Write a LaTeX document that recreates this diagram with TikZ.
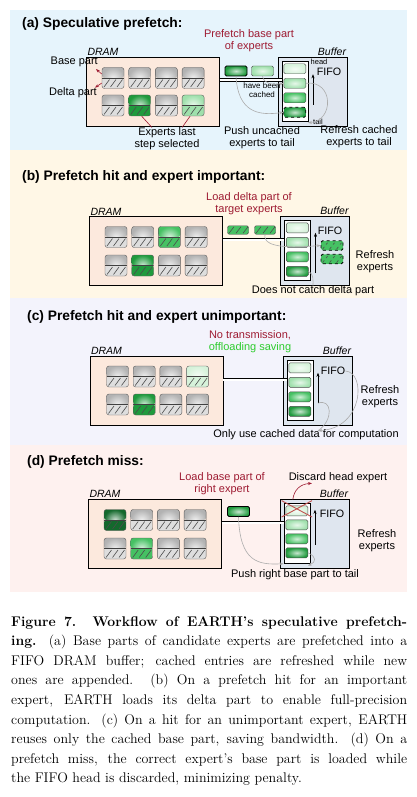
\documentclass[tikz,border=0pt]{standalone}
\usepackage{fontspec}
\setsansfont{Liberation Sans}
\usepackage{tikz}
\usetikzlibrary{arrows.meta,positioning}
\definecolor{panelA}{HTML}{E6F4FC}
\definecolor{panelB}{HTML}{FFF7E6}
\definecolor{panelC}{HTML}{F3F3FC}
\definecolor{panelD}{HTML}{FEF1EF}
\definecolor{dramfill}{HTML}{FCE9DD}
\definecolor{buffill}{HTML}{DFE6EF}
\definecolor{darkred}{HTML}{9E1B32}
\definecolor{savegreen}{HTML}{2ECC2E}
\definecolor{xred}{HTML}{C0504D}
\definecolor{grnK}{HTML}{13692C}
\definecolor{grnD}{HTML}{1F9A3D}
\definecolor{grnM}{HTML}{46C163}
\definecolor{grnL}{HTML}{9FE0AC}
\definecolor{grnV}{HTML}{D6F2DA}
\colorlet{gUp}{black!30}
\colorlet{gLo}{black!13}

\begin{document}
\begin{tikzpicture}[x=1pt, y=-1pt,
  >={Stealth[length=4pt,width=3pt]},
  ttl/.style={anchor=west, inner sep=0pt, font=\sffamily\bfseries\fontsize{13.8}{15}\selectfont},
  lbl/.style={font=\sffamily\fontsize{11}{12.2}\selectfont, align=center, inner sep=0pt},
  red lbl/.style={lbl, text=darkred},
  small/.style={font=\sffamily\fontsize{8}{9}\selectfont, align=center, inner sep=0pt},
  tinylbl/.style={font=\sffamily\fontsize{7.5}{8}\selectfont, inner sep=0pt},
  fifolbl/.style={font=\sffamily\fontsize{10.7}{12}\selectfont, inner sep=0pt},
  memlbl/.style={font=\sffamily\itshape\fontsize{10.5}{12}\selectfont, inner sep=1pt},
  dram/.style={draw, fill=dramfill, minimum width=133pt, minimum height=69pt},
  buf/.style={draw, fill=buffill, minimum width=69pt, minimum height=69pt},
  fifo/.style={draw, fill=white, minimum width=26pt, minimum height=60pt},
  slot/.style={draw=black!70, rounded corners=1.5pt, minimum width=22pt, minimum height=10pt,
               inner sep=0pt, inner color=#1!25, outer color=#1},
  tailslot/.style={draw=black, dashed, thick},
  deltabox/.style={draw=black!70, rounded corners=1.5pt, fill=grnM, minimum width=21pt,
               minimum height=8.5pt, inner sep=0pt,
               path picture={\foreach \k in {0,1,2}
                 \draw[black!70, line width=.6pt] ([xshift=\k*7pt+1.5pt, yshift=1pt]path picture bounding box.south west) -- ++(5pt,6.5pt);}},
  expert/.style 2 args={draw=black!65, rounded corners=2.5pt, minimum width=22pt, minimum height=21pt, inner sep=0pt,
               path picture={
                 \shade[inner color=#1!20, outer color=#1] (path picture bounding box.north west) rectangle (path picture bounding box.east);
                 \fill[#2] (path picture bounding box.west) rectangle (path picture bounding box.south east);
                 \foreach \k in {0,1,2}
                   \draw[black!70, line width=.6pt] ([xshift=\k*6.5pt+2pt, yshift=1.5pt]path picture bounding box.south west) -- ++(5.5pt,7.5pt);
                 \draw[black!75, line width=.6pt] (path picture bounding box.west) -- (path picture bounding box.east);}},
  link/.style={double distance=2pt, line width=.6pt},
  gcurve/.style={gray!65, line width=.6pt},
  redln/.style={darkred, line width=.6pt}]
\useasboundingbox (0,0) rectangle (417,797);
% panel backgrounds
\fill[panelA] (10,10) rectangle (407,150);
\fill[panelB] (10,150) rectangle (407,298);
\fill[panelC] (10,298) rectangle (407,445);
\fill[panelD] (10,445) rectangle (407,592);

% (a) speculative prefetch
\node[ttl] (ttlA) at (22,24) {(a) Speculative prefetch:};
\node[dram] (dramA) at (153,91.5) {};
\node[buf] (bufA) at (312.5,91.5) {};
\node[fifo] (fifoA) at ([xshift=17pt]bufA.west) {};
\node[memlbl, anchor=south west] (dlA) at (dramA.north west) {DRAM};
\node[memlbl, anchor=south east] (blA) at (bufA.north east) {Buffer};
\foreach \cu/\cl [count=\i from 0] in {gUp/gLo,gUp/gLo,gUp/gLo,gUp/gLo,gUp/gLo,grnD/grnD,gUp/gLo,grnL/grnL}
  \node[expert={\cu}{\cl}] (eA\i) at ([shift={({mod(\i,4)*26.7-40},{int(\i/4)*27.5-13.5})}]dramA.center) {};
\foreach \c/\s [count=\i] in {grnV/,grnL/,grnM/,grnD/tailslot}
  \node[slot=\c,\s] (sA\i) at ([yshift={-(\i-1)*14.5pt-7.5pt}]fifoA.north) {};
\draw[link] ([yshift=11.5pt]dramA.east) -- ([yshift=11.5pt]fifoA.west);
\node[slot=grnD, draw=black, thick] (tA1) at (236,71) {};
\node[slot=grnL] (tA2) at (262.5,71) {};
\node[red lbl] (pfA) at (249,41) {Prefetch base part\\of experts};
\node[lbl, anchor=east] (baseA) at (98,62) {Base part};
\node[lbl, anchor=east] (deltaA) at (97,93) {Delta part};
\draw[redln,->] ([yshift=4pt]eA0.west) -- ([xshift=-2pt,yshift=-2pt]baseA.south east);
\draw[redln,->] ([yshift=-5pt]eA0.west) -- ([xshift=-2pt]deltaA.north east);
\node[lbl] (selA) at (167,139) {Experts last\\step selected};
\draw[redln] ([xshift=2pt]eA5.south) -- ([xshift=-15pt]selA.north);
\draw[redln] ([xshift=-3pt]eA7.south) -- ([xshift=15pt]selA.north);
\node[small] (cachedA) at (262,90.5) {have been\\cached};
\coordinate (arA1) at ([xshift=5pt,yshift=17pt]fifoA.south east);
\coordinate (arA2) at ([xshift=5pt,yshift=-13pt]fifoA.north east);
\draw[->] (arA1) -- (arA2);
\node[fifolbl] (fifolblA) at (329,72) {FIFO};
\node[tinylbl] (headA) at (319,62) {head};
\node[tinylbl] (tailA) at (318,122) {tail};
\draw[gcurve,->] (tA1.south) .. controls (238,112) and (258,116) .. (sA4.west);
\draw[gcurve,->] (tA2.south) .. controls (264,84) and (272,85) .. (sA2.west);
\draw[gcurve,->] (sA2.east) .. controls (334,80) and (334,121) .. ([yshift=-1pt]fifoA.south east);
\node[lbl] (pushA) at (262,138) {Push uncached\\experts to tail};
\node[lbl] (refA) at (359,137) {Refresh cached\\experts to tail};

% (b) hit, important expert
\node[ttl] (ttlB) at (22,177) {(b) Prefetch hit and expert important:};
\node[red lbl] (ldB) at (249,203.5) {Load delta part of\\target experts};
\node[dram] (dramB) at (156,251) {};
\node[buf] (bufB) at (315,250.5) {};
\node[fifo] (fifoB) at ([xshift=17pt]bufB.west) {};
\node[memlbl, anchor=south west] (dlB) at (dramB.north west) {DRAM};
\node[memlbl, anchor=south east] (blB) at (bufB.north east) {Buffer};
\foreach \cu/\cl [count=\i from 0] in {gUp/gLo,gUp/gLo,grnM/grnM,gUp/gLo,gUp/gLo,grnD/grnD,gUp/gLo,gUp/gLo}
  \node[expert={\cu}{\cl}] (eB\i) at ([shift={({mod(\i,4)*26.7-40},{int(\i/4)*28.5-14})}]dramB.center) {};
\foreach \c [count=\i] in {grnV,grnL,grnM,grnD}
  \node[slot=\c] (sB\i) at ([yshift={-(\i-1)*14.5pt-7.5pt}]fifoB.north) {};
\draw[link] ([yshift=11.5pt]dramB.east) -- ([yshift=11pt]fifoB.west);
\node[deltabox] (tB1) at (238,230) {};
\node[deltabox] (tB2) at (265,230) {};
\node[deltabox, minimum width=22pt, minimum height=9.5pt, draw=black, dashed, thick] (dB1) at (332,245.5) {};
\node[deltabox, minimum width=22pt, minimum height=9.5pt, draw=black, dashed, thick] (dB2) at (332,259) {};
\coordinate (arB1) at ([xshift=5pt,yshift=7.5pt]fifoB.south east);
\coordinate (arB2) at ([xshift=5pt,yshift=-12.5pt]fifoB.north east);
\draw[->] (arB1) -- (arB2);
\node[fifolbl] (fifolblB) at (330,231) {FIFO};
\node[lbl] (rfB) at (375,261.5) {Refresh\\experts};
\node[lbl] (ncB) at (313,291) {Does not catch delta part};
\draw[gcurve,->] (tB2.south) .. controls (262,250) and (300,247) .. (dB1.west);
\draw[gcurve] (sB4.east) .. controls (314,274) and (313,281) .. (ncB.north);

% (c) hit, unimportant expert
\node[ttl] (ttlC) at (27,317) {(c) Prefetch hit and expert unimportant:};
\node[lbl] (ntC) at (250,341.5) {\textcolor{darkred}{No transmission,}\\\textcolor{savegreen}{offloading saving}};
\node[dram] (dramC) at (156.5,390.5) {};
\node[buf] (bufC) at (317.5,390.5) {};
\node[fifo] (fifoC) at ([xshift=17pt]bufC.west) {};
\node[memlbl, anchor=south west] (dlC) at (dramC.north west) {DRAM};
\node[memlbl, anchor=south east] (blC) at (bufC.north east) {Buffer};
\foreach \cu/\cl [count=\i from 0] in {gUp/gLo,gUp/gLo,gUp/gLo,grnV/grnV,gUp/gLo,grnD/grnD,gUp/gLo,gUp/gLo}
  \node[expert={\cu}{\cl}] (eC\i) at ([shift={({mod(\i,4)*26.7-39},{int(\i/4)*28-14})}]dramC.center) {};
\foreach \c [count=\i] in {grnV,grnL,grnM,grnD}
  \node[slot=\c] (sC\i) at ([yshift={-(\i-1)*14.5pt-7.5pt}]fifoC.north) {};
\draw[link] ([yshift=11pt]dramC.east) -- ([yshift=11pt]fifoC.west);
\coordinate (arC1) at ([xshift=5pt,yshift=17.5pt]fifoC.south east);
\coordinate (arC2) at ([xshift=5pt,yshift=-12.5pt]fifoC.north east);
\draw[->] (arC1) -- (arC2);
\node[fifolbl] (fifolblC) at (333,371) {FIFO};
\node[lbl] (rfC) at (380,397) {Refresh\\experts};
\node[lbl] (cmpC) at (306,435) {Only use cached data for computation};
\draw[gcurve,->] (fifolblC.east) .. controls (366,372) and (364,428) .. ([xshift=12pt,yshift=-1pt]cmpC.north);
\draw[gcurve] (arC1) .. controls (332,398) and (334,420) .. ([xshift=12pt,yshift=-1pt]cmpC.north);

% (d) prefetch miss
\node[ttl] (ttlD) at (27,462) {(d) Prefetch miss:};
\node[red lbl] (ldD) at (222,484) {Load base part of\\right expert};
\node[lbl] (dsD) at (338,478) {Discard head expert};
\node[dram] (dramD) at (155,533.5) {};
\node[buf] (bufD) at (314.5,533.5) {};
\node[fifo] (fifoD) at ([xshift=17pt]bufD.west) {};
\node[memlbl, anchor=south west] (dlD) at (dramD.north west) {DRAM};
\node[memlbl, anchor=south east] (blD) at (bufD.north east) {Buffer};
\foreach \cu/\cl [count=\i from 0] in {grnK/grnK,gUp/gLo,gUp/gLo,gUp/gLo,gUp/gLo,grnM/grnM,gUp/gLo,gUp/gLo}
  \node[expert={\cu}{\cl}] (eD\i) at ([shift={({mod(\i,4)*26.7-40},{int(\i/4)*28.5-13.5})}]dramD.center) {};
\foreach \c [count=\i] in {grnV,grnL,grnM,grnD}
  \node[slot=\c] (sD\i) at ([yshift={-(\i-1)*14pt-7.5pt}]fifoD.north) {};
\draw[xred, line width=.9pt] ([shift={(-4pt,5pt)}]sD1.north west) -- ([shift={(4pt,-1pt)}]sD1.south east);
\draw[xred, line width=.9pt] ([shift={(-4pt,-1pt)}]sD1.south west) -- ([shift={(4pt,5pt)}]sD1.north east);
\draw[link] ([yshift=11pt]dramD.east) -- ([yshift=11pt]fifoD.west);
\node[slot=grnD, draw=black, thick] (tD1) at (238.5,511.5) {};
\draw[redln,->] ([shift={(-4pt,6pt)}]sD1.north) .. controls (294,490) and (300,484) .. ([xshift=-26pt]dsD.south);
\coordinate (arD1) at ([xshift=5pt,yshift=18.5pt]fifoD.south east);
\coordinate (arD2) at ([xshift=5pt,yshift=-6.5pt]fifoD.north east);
\draw[->] (arD1) -- (arD2);
\node[fifolbl] (fifolblD) at (332,514) {FIFO};
\node[lbl] (rfD) at (377,540.5) {Refresh\\experts};
\node[lbl] (prD) at (295,575) {Push right base part to tail};
\draw[gcurve,->] (tD1.south) .. controls (240,562) and (258,565) .. (fifoD.south west);
\draw[gcurve,->] (sD4.east) .. controls (317,557) and (316,562) .. ([xshift=-2pt,yshift=-2pt]fifoD.south east);

% caption
\node[anchor=north west, text width=396pt, align=justify, inner sep=0pt,
      font=\fontsize{14}{19.6}\selectfont] (cap) at (11,616)
  {\tolerance=9999 \hyphenpenalty=10000
   \textbf{Figure 7. Workflow of EARTH’s speculative prefetch-\linebreak ing.} (a) Base parts of candidate experts are prefetched into a\linebreak
   FIFO DRAM buffer; cached entries are refreshed while new\linebreak
   ones are appended. (b) On a prefetch hit for an important\linebreak
   expert, EARTH loads its delta part to enable full-precision\linebreak
   computation. (c) On a hit for an unimportant expert, EARTH\linebreak
   reuses only the cached base part, saving bandwidth. (d) On a\linebreak
   prefetch miss, the correct expert’s base part is loaded while\linebreak
   the FIFO head is discarded, minimizing penalty.};
\end{tikzpicture}
\end{document}
